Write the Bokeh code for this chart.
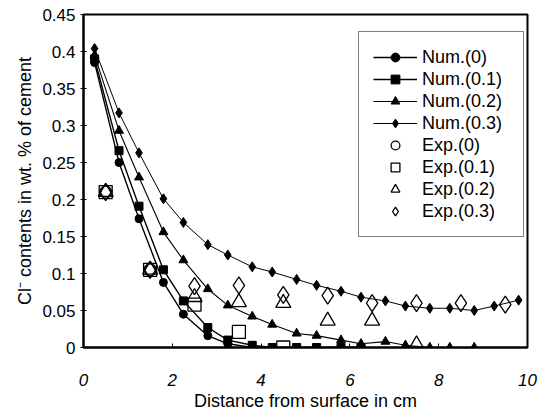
from bokeh.plotting import figure
from bokeh.models import Legend, LegendItem, FixedTicker, Range1d
from bokeh.embed import file_html
from bokeh.resources import INLINE

# ---- data ----
num_x = [0.25, 0.8, 1.25, 1.8, 2.25, 2.8, 3.25, 3.8, 4.25, 4.8,
         5.25, 5.8, 6.25, 6.8, 7.25, 7.8, 8.25, 8.8, 9.25, 9.8]
num0 = [0.385, 0.250, 0.174, 0.088, 0.045, 0.016, 0.005, 0.0, 0.0, 0.0,
        0.0, 0.0, 0.0]
num01 = [0.390, 0.266, 0.191, 0.105, 0.063, 0.027, 0.010, 0.003, 0.0, 0.0,
         0.0, 0.0, 0.0]
num02 = [0.395, 0.293, 0.230, 0.156, 0.118, 0.079, 0.057, 0.042, 0.031, 0.019,
         0.016, 0.010, 0.005, 0.008, 0.003, 0.0, 0.0, 0.0]
num03 = [0.404, 0.317, 0.263, 0.201, 0.169, 0.139, 0.125, 0.109, 0.102, 0.092,
         0.084, 0.076, 0.068, 0.063, 0.056, 0.053, 0.053, 0.050, 0.056, 0.064]

exp0_x = [0.5, 1.5]
exp0 = [0.210, 0.105]
exp01_x = [0.5, 1.5, 2.5, 3.5, 4.5]
exp01 = [0.210, 0.105, 0.058, 0.021, 0.0]
exp02_x = [0.5, 1.5, 2.5, 3.5, 4.5, 5.5, 6.5, 7.5]
exp02 = [0.210, 0.105, 0.068, 0.061, 0.060, 0.036, 0.036, 0.004]
exp03_x = [0.5, 1.5, 2.5, 3.5, 4.5, 5.5, 6.5, 7.5, 8.5, 9.5]
exp03 = [0.210, 0.105, 0.083, 0.084, 0.071, 0.070, 0.060, 0.060, 0.060, 0.058]

x_ticks = [0, 2, 4, 6, 8, 10]
y_ticks = [0, 0.05, 0.1, 0.15, 0.2, 0.25, 0.3, 0.35, 0.4, 0.45]

FONT = "Liberation Sans"

p = figure(width=538, height=415, output_backend="svg", toolbar_location=None,
           x_range=Range1d(0, 10), y_range=Range1d(0, 0.45),
           min_border_left=83, min_border_right=11, min_border_top=14,
           min_border_bottom=68)
p.xgrid.visible = False
p.ygrid.visible = False
p.outline_line_color = "black"
p.outline_line_width = 2
p.background_fill_color = "white"
p.border_fill_color = "white"

# axes
p.xaxis.ticker = FixedTicker(ticks=x_ticks)
p.yaxis.ticker = FixedTicker(ticks=y_ticks)
p.yaxis.major_label_overrides = {0: "0", 0.1: "0.1", 0.2: "0.2", 0.3: "0.3", 0.4: "0.4"}
for ax in (p.xaxis, p.yaxis):
    ax.axis_line_color = "black"
    ax.axis_line_width = 2
    ax.major_tick_line_color = "black"
    ax.minor_tick_line_color = None
    ax.major_label_text_font = FONT
    ax.major_label_text_font_size = "17px"
    ax.major_label_text_color = "black"
    ax.axis_label_text_font = FONT
    ax.axis_label_text_font_size = "18px"
    ax.axis_label_text_font_style = "normal"
    ax.axis_label_text_color = "black"
p.xaxis.major_tick_in = 4
p.xaxis.major_tick_out = 0
p.yaxis.major_tick_in = 3
p.yaxis.major_tick_out = 3
p.xaxis.major_label_text_font_style = "italic"
p.xaxis.major_label_standoff = 26
p.yaxis.major_label_standoff = 5
p.xaxis.axis_label = "Distance from surface in cm"
p.xaxis.axis_label_standoff = 2
p.yaxis.axis_label = "Cl\u207b contents in wt. % of cement"
p.yaxis.axis_label_standoff = 4

# numerical lines
def nline(y, marker, size, lw):
    xs = num_x[:len(y)]
    r1 = p.line(xs, y, line_color="black", line_width=lw)
    r2 = p.scatter(xs, y, marker=marker, size=size, fill_color="black",
                   line_color="black")
    return [r1, r2]

r_n0 = nline(num0, "circle", 8, 1.4)
r_n01 = nline(num01, "square", 8, 1.4)
r_n02 = nline(num02, "triangle", 9, 1.1)
r_n03 = nline(num03, "diamond", 10, 1.0)

def eplot(x, y, marker, size):
    return [p.scatter(x, y, marker=marker, size=size, fill_color=None,
                      line_color="black", line_width=1.3)]

r_e0 = eplot(exp0_x, exp0, "circle", 12)
r_e01 = eplot(exp01_x, exp01, "square", 13)
r_e02 = eplot(exp02_x, exp02, "triangle", 15)
r_e03 = eplot(exp03_x, exp03, "diamond", 17)

items = [
    LegendItem(label="Num.(0)", renderers=r_n0),
    LegendItem(label="Num.(0.1)", renderers=r_n01),
    LegendItem(label="Num.(0.2)", renderers=r_n02),
    LegendItem(label="Num.(0.3)", renderers=r_n03),
    LegendItem(label="Exp.(0)", renderers=r_e0),
    LegendItem(label="Exp.(0.1)", renderers=r_e01),
    LegendItem(label="Exp.(0.2)", renderers=r_e02),
    LegendItem(label="Exp.(0.3)", renderers=r_e03),
]
legend = Legend(items=items, location=(275, 110), padding=14, spacing=0,
                label_height=22, glyph_height=22, glyph_width=44,
                label_standoff=5, label_width=87, margin=0,
                label_text_font=FONT, label_text_font_size="18px",
                label_text_color="black",
                border_line_color="black", border_line_width=1,
                background_fill_color="white", background_fill_alpha=1.0)
p.add_layout(legend, "center")

open("out.html", "w").write(file_html(p, INLINE))
